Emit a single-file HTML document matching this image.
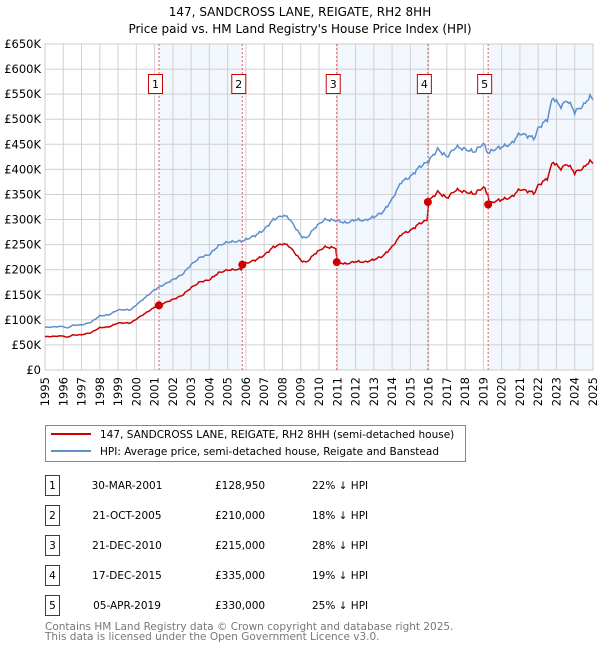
<!DOCTYPE html>
<html><head><meta charset="utf-8"><style>
body{margin:0;background:#fff;}
svg text{font-family:"DejaVu Sans","Liberation Sans",sans-serif;}
</style></head><body>
<svg id="s" width="600" height="650" xmlns="http://www.w3.org/2000/svg">
<text x="300" y="16" text-anchor="middle" font-size="12">147, SANDCROSS LANE, REIGATE, RH2 8HH</text>
<text x="300" y="33" text-anchor="middle" font-size="12">Price paid vs. HM Land Registry's House Price Index (HPI)</text>
<g id="plot"></g>
<rect x="45.5" y="425.5" width="420" height="36" fill="none" stroke="#888"/>
<line x1="51" y1="434" x2="91" y2="434" stroke="#cc0000" stroke-width="2"/>
<line x1="51" y1="451" x2="91" y2="451" stroke="#5b8fd0" stroke-width="2"/>
<text x="100" y="438" font-size="10.5">147, SANDCROSS LANE, REIGATE, RH2 8HH (semi-detached house)</text>
<text x="100" y="455" font-size="10.5">HPI: Average price, semi-detached house, Reigate and Banstead</text>
<g id="tbl" font-size="10.5"></g>
<text x="45" y="630" font-size="10.5" fill="#777">Contains HM Land Registry data © Crown copyright and database right 2025.</text>
<text x="45" y="640" font-size="10.5" fill="#777">This data is licensed under the Open Government Licence v3.0.</text>
</svg>
<script>
const L=45,R=593,T=44,B=370;
const X=y=>L+(y-1995)*(R-L)/30, Y=v=>B-v*(B-T)/650;
let h='';
const sales=[[2001.24,128.95],[2005.8,210],[2010.97,215],[2015.96,335],[2019.26,330]];
const rows=[["30-MAR-2001","£128,950","22%"],["21-OCT-2005","£210,000","18%"],["21-DEC-2010","£215,000","28%"],["17-DEC-2015","£335,000","19%"],["05-APR-2019","£330,000","25%"]];
h+=`<rect x="${X(2001.24)}" y="${T}" width="${X(2005.8)-X(2001.24)}" height="${B-T}" fill="#f2f6fd"/>`;
h+=`<rect x="${X(2010.97)}" y="${T}" width="${X(2015.96)-X(2010.97)}" height="${B-T}" fill="#f2f6fd"/>`;
h+=`<rect x="${X(2019.26)}" y="${T}" width="${R-X(2019.26)}" height="${B-T}" fill="#f2f6fd"/>`;
for(let v=0;v<=650;v+=50){h+=`<line x1="${L}" x2="${R}" y1="${Y(v)}" y2="${Y(v)}" stroke="#d0d0d0"/>`;
h+=`<text x="41" y="${Y(v)+4}" text-anchor="end" font-size="11.5">£${v?v+'K':'0'}</text>`;}
for(let y=1995;y<=2025;y++){h+=`<line y1="${T}" y2="${B}" x1="${X(y)}" x2="${X(y)}" stroke="#d0d0d0"/>`;
h+=`<text transform="translate(${X(y)+4},377) rotate(-90)" text-anchor="end" font-size="11.5">${y}</text>`;}
h+=`<rect x="${L}" y="${T}" width="${R-L}" height="${B-T}" fill="none" stroke="#ccc"/>`;
const K=[[1995,85],[1996,87],[1996.2,83],[1996.5,89],[1997,90],[1997.5,95],[1998,108],[1998.5,110],[1999,120],[1999.7,120],[2000,130],[2000.5,145],[2001,160],[2001.24,165],[2002,180],[2002.5,190],[2003,210],[2003.5,225],[2004,230],[2004.5,248],[2005,255],[2005.8,257],[2006.5,268],[2007,280],[2007.5,300],[2008,308],[2008.3,305],[2008.6,290],[2009,268],[2009.3,262],[2009.8,285],[2010.3,300],[2010.97,298],[2011.5,293],[2012,300],[2012.5,298],[2013,305],[2013.5,315],[2014,340],[2014.5,375],[2015,385],[2015.5,405],[2015.96,415],[2016.5,440],[2017,425],[2017.5,445],[2018,440],[2018.5,435],[2019,452],[2019.26,432],[2019.6,440],[2020,445],[2020.5,450],[2021,472],[2021.5,466],[2021.8,462],[2022,482],[2022.5,500],[2022.8,545],[2023.2,525],[2023.6,538],[2024,515],[2024.5,528],[2024.8,545],[2025,540]];
function hpi(t){for(let i=1;i<K.length;i++)if(t<=K[i][0]){const a=K[i-1],b=K[i];return a[1]+(b[1]-a[1])*(t-a[0])/(b[0]-a[0]);}return K[K.length-1][1];}
const r=sales.map(s=>s[1]/hpi(s[0]));
function ratio(t){let k=0;for(let i=0;i<5;i++)if(t>=sales[i][0])k=i;return r[k];}
let pb='',pr='';
for(let t=1995;t<=2025.001;t+=1/12){const n=1+0.006*Math.sin(t*17.3)+0.004*Math.sin(t*41.7);const v=hpi(t)*n;
pb+=`${X(t).toFixed(1)},${Y(v).toFixed(1)} `;pr+=`${X(t).toFixed(1)},${Y(v*ratio(t)).toFixed(1)} `;}
h+=`<polyline points="${pb}" fill="none" stroke="#5b8fd0" stroke-width="1.5"/>`;
h+=`<polyline points="${pr}" fill="none" stroke="#cc0000" stroke-width="1.5"/>`;
sales.forEach((s,i)=>{const x=X(s[0]);
h+=`<line x1="${x}" x2="${x}" y1="${T}" y2="${B}" stroke="#e06060" stroke-dasharray="2,2"/>`;
h+=`<circle cx="${x}" cy="${Y(s[1])}" r="4" fill="#cc0000"/>`;
h+=`<rect x="${x-10.5}" y="74.5" width="14" height="19" fill="#fff" stroke="#cc0000"/>`;
h+=`<text x="${x-3.5}" y="88" text-anchor="middle" font-size="11">${i+1}</text>`;});
document.getElementById('plot').innerHTML=h;
let t='';
rows.forEach((w,i)=>{const y=475+i*30;
t+=`<rect x="45.5" y="${y+0.5}" width="14" height="20" fill="#fff" stroke="#cc0000"/>`;
t+=`<text x="52.5" y="${y+14}" text-anchor="middle">${i+1}</text>`;
t+=`<text x="127" y="${y+14}" text-anchor="middle">${w[0]}</text>`;
t+=`<text x="215" y="${y+14}">${w[1]}</text>`;
t+=`<text x="312" y="${y+14}">${w[2]} ↓ HPI</text>`;});
document.getElementById('tbl').innerHTML=t;
</script>
</body></html>
